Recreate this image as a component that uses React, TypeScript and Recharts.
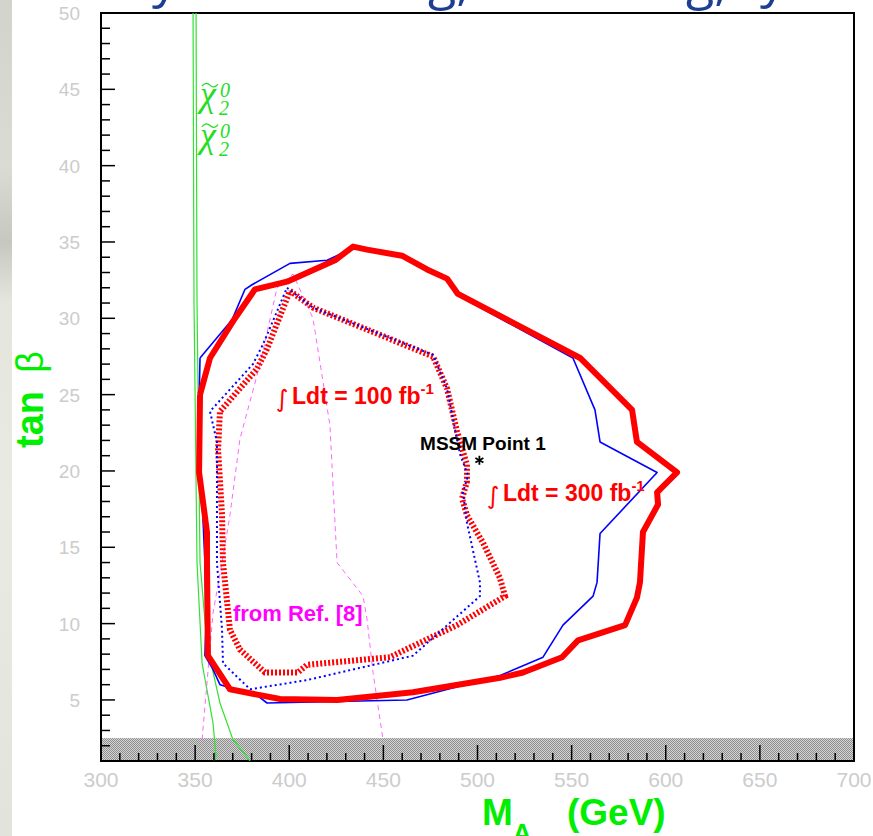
import React from 'react';
import { ComposedChart, Scatter, XAxis, YAxis, ReferenceArea, ReferenceDot } from 'recharts';

// 5 sigma discovery contours, M_A (GeV) vs tan(beta)
const red300 = [
  { x: 352.6, y: 25.0 }, { x: 357.9, y: 27.4 }, { x: 370.1, y: 29.8 }, { x: 381.8, y: 31.9 },
  { x: 398.8, y: 32.4 }, { x: 424.3, y: 33.8 }, { x: 433.9, y: 34.7 }, { x: 441.3, y: 34.5 },
  { x: 459.9, y: 34.1 }, { x: 473.2, y: 33.2 }, { x: 483.8, y: 32.6 }, { x: 489.6, y: 31.6 },
  { x: 554.5, y: 27.4 }, { x: 582.1, y: 24.0 }, { x: 584.7, y: 21.9 }, { x: 606.0, y: 19.9 },
  { x: 595.4, y: 18.6 }, { x: 595.9, y: 17.8 }, { x: 587.9, y: 16.0 }, { x: 586.3, y: 12.7 },
  { x: 584.7, y: 11.7 }, { x: 578.4, y: 9.9 }, { x: 553.4, y: 8.9 }, { x: 544.9, y: 7.8 },
  { x: 524.2, y: 6.8 }, { x: 512.0, y: 6.45 }, { x: 465.7, y: 5.5 }, { x: 425.4, y: 5.0 },
  { x: 395.1, y: 5.06 }, { x: 368.5, y: 5.7 }, { x: 361.6, y: 7.0 }, { x: 356.8, y: 7.9 },
  { x: 356.3, y: 14.0 }, { x: 356.3, y: 16.0 }, { x: 352.1, y: 19.9 }, { x: 352.6, y: 25.0 },
];

const blue300 = [
  { x: 352.6, y: 27.4 }, { x: 369.6, y: 29.9 }, { x: 376.5, y: 31.9 }, { x: 380.2, y: 32.2 },
  { x: 400.4, y: 33.6 }, { x: 420.1, y: 33.8 }, { x: 433.9, y: 34.6 }, { x: 441.3, y: 34.5 },
  { x: 459.9, y: 34.0 }, { x: 473.2, y: 33.2 }, { x: 482.7, y: 32.6 }, { x: 489.6, y: 31.5 },
  { x: 550.7, y: 27.4 }, { x: 562.4, y: 24.0 }, { x: 565.1, y: 21.9 }, { x: 595.4, y: 19.9 },
  { x: 565.1, y: 15.9 }, { x: 563.5, y: 12.7 }, { x: 561.4, y: 11.8 }, { x: 545.4, y: 9.9 },
  { x: 534.8, y: 7.8 }, { x: 512.0, y: 6.6 }, { x: 462.5, y: 5.0 }, { x: 388.2, y: 4.8 },
  { x: 382.9, y: 5.3 }, { x: 363.2, y: 6.0 }, { x: 359.5, y: 7.0 }, { x: 355.2, y: 7.9 },
  { x: 355.8, y: 10.1 }, { x: 355.2, y: 14.0 }, { x: 353.1, y: 19.9 }, { x: 352.1, y: 24.5 },
  { x: 352.6, y: 27.4 },
];

const red100 = [
  { x: 400.4, y: 31.8 }, { x: 412.6, y: 30.7 }, { x: 476.4, y: 27.5 }, { x: 483.8, y: 25.4 },
  { x: 489.1, y: 22.6 }, { x: 494.4, y: 20.4 }, { x: 494.4, y: 19.3 }, { x: 491.8, y: 18.2 },
  { x: 494.4, y: 17.1 }, { x: 502.9, y: 15.3 }, { x: 511.9, y: 13.0 }, { x: 514.6, y: 11.8 },
  { x: 489.1, y: 9.9 }, { x: 469.5, y: 8.75 }, { x: 453.5, y: 7.8 }, { x: 409.4, y: 7.3 },
  { x: 404.6, y: 6.8 }, { x: 387.1, y: 6.8 }, { x: 373.8, y: 8.3 }, { x: 368.5, y: 9.6 },
  { x: 364.8, y: 14.0 }, { x: 364.3, y: 17.1 }, { x: 362.2, y: 21.4 }, { x: 363.2, y: 23.9 },
  { x: 373.8, y: 25.4 }, { x: 382.9, y: 26.7 }, { x: 388.2, y: 28.0 }, { x: 400.4, y: 31.8 },
];

const blue100 = [
  { x: 398.8, y: 32.0 }, { x: 412.6, y: 30.7 }, { x: 476.4, y: 27.6 }, { x: 483.8, y: 25.4 },
  { x: 490.7, y: 21.1 }, { x: 495.0, y: 19.7 }, { x: 492.3, y: 18.6 }, { x: 494.4, y: 16.6 },
  { x: 501.3, y: 12.7 }, { x: 501.3, y: 11.8 }, { x: 465.7, y: 7.9 }, { x: 409.4, y: 6.3 },
  { x: 379.2, y: 5.7 }, { x: 364.8, y: 7.4 }, { x: 364.3, y: 9.6 }, { x: 361.6, y: 14.0 },
  { x: 361.6, y: 21.9 }, { x: 357.9, y: 23.9 }, { x: 380.7, y: 27.0 }, { x: 386.1, y: 28.3 },
  { x: 398.8, y: 32.0 },
];

// older contour, from Ref. [8]
const refEight = [
  { x: 353.7, y: 2.4 }, { x: 359.5, y: 10.7 }, { x: 364.3, y: 14.0 }, { x: 368.5, y: 17.1 },
  { x: 373.8, y: 22.1 }, { x: 384.5, y: 27.0 }, { x: 393.5, y: 32.0 }, { x: 402.0, y: 32.9 },
  { x: 412.6, y: 30.0 }, { x: 421.6, y: 23.0 }, { x: 425.4, y: 14.0 }, { x: 439.2, y: 11.8 },
  { x: 441.3, y: 10.3 }, { x: 444.5, y: 6.8 }, { x: 449.8, y: 2.4 },
];

// chi_2^0 decay thresholds
const chiInner = [
  { x: 348.9, y: 50 }, { x: 349.4, y: 31.1 }, { x: 351.0, y: 14.0 }, { x: 353.7, y: 7.4 },
  { x: 359.5, y: 3.5 }, { x: 361.1, y: 1.3 }, { x: 360.0, y: 1.0 },
];
const chiOuter = [
  { x: 350.5, y: 50 }, { x: 351.0, y: 31.1 }, { x: 352.6, y: 14.0 }, { x: 356.3, y: 8.6 },
  { x: 363.2, y: 4.8 }, { x: 370.1, y: 2.4 }, { x: 379.2, y: 1.0 },
];

const mssmPoint1 = [{ x: 501, y: 20.7 }];

const excludedTanBeta = [1, 2.5];
const massRange = [300, 700];
const tanBetaRange = [1, 50];
const massTicks = Array.from({ length: 41 }, (_, i) => 300 + i * 10);
const tanBetaTicks = Array.from({ length: 50 }, (_, i) => 1 + i);

const SANS = "'Liberation Sans', Arial, sans-serif";
const GREEN = '#00ee00';

const noDot = () => <g />;

// ticks point into the frame; tickSize/tickMargin are 0 so x/y sit on the plot edge
const MassTick = ({ x, y, payload }: any) => {
  const v = payload.value;
  const major = v % 50 === 0;
  return (
    <g>
      <line x1={x} x2={x} y1={y} y2={y - (major ? 16 : 8)} stroke="#000" strokeWidth={1.5} />
      {major && (
        <text x={x} y={y + 26} textAnchor="middle" fontFamily={SANS} fontSize={21} fill="#cccccc">
          {v}
        </text>
      )}
    </g>
  );
};

const TanBetaTick = ({ x, y, payload }: any) => {
  const v = payload.value;
  const major = v % 5 === 0;
  return (
    <g>
      <line x1={x} x2={x + (major ? 14 : 9)} y1={y} y2={y} stroke="#000" strokeWidth={1.5} />
      {major && (
        <text x={x - 21} y={y + 7} textAnchor="end" fontFamily={SANS} fontSize={19} fill="#cccccc">
          {v}
        </text>
      )}
    </g>
  );
};

const DitherBand = ({ x, y, width, height }: any) => (
  <g>
    <defs>
      <pattern id="dither" width={2} height={2} patternUnits="userSpaceOnUse">
        <rect width={2} height={2} fill="#d6d6d6" />
        <rect width={1} height={1} fill="#8c8c8c" />
        <rect x={1} y={1} width={1} height={1} fill="#8c8c8c" />
      </pattern>
    </defs>
    <rect x={x} y={y} width={width} height={height} fill="url(#dither)" />
  </g>
);

const Asterisk = ({ cx, cy }: any) => (
  <g stroke="#000" strokeWidth={1.8}>
    <line x1={cx} y1={cy - 4.5} x2={cx} y2={cy + 4.5} />
    <line x1={cx - 4} y1={cy - 2.3} x2={cx + 4} y2={cy + 2.3} />
    <line x1={cx - 4} y1={cy + 2.3} x2={cx + 4} y2={cy - 2.3} />
  </g>
);

const ChiLabel = ({ cx, cy }: any) => (
  <g fill="#22dd22" fontFamily="'Liberation Serif', 'DejaVu Serif', serif" fontStyle="italic">
    <text x={cx} y={cy} fontSize={36}>χ</text>
    <path
      d={`M${cx + 2},${cy - 20} q4,-5 8,-1 q4,4 8,-1`}
      fill="none" stroke="#22dd22" strokeWidth={1.3}
    />
    <text x={cx + 20} y={cy - 9} fontSize={20}>0</text>
    <text x={cx + 19} y={cy + 9} fontSize={20}>2</text>
  </g>
);

const lumiLabel = (lumi: string) => ({ cx, cy }: any) => (
  <g fill="#ff0000">
    <text x={cx - 16} y={cy + 3} fontFamily="'DejaVu Sans', sans-serif" fontSize={24}>∫</text>
    <text x={cx} y={cy} fontFamily={SANS} fontWeight="bold" fontSize={23}>
      Ldt = {lumi} fb
      <tspan dy={-10} fontSize={15}>-1</tspan>
    </text>
  </g>
);

const textLabel = (label: string, size: number, color: string) => ({ cx, cy }: any) => (
  <text x={cx} y={cy} fontFamily={SANS} fontWeight="bold" fontSize={size} fill={color}>
    {label}
  </text>
);

const App = () => (
  <div
    style={{
      position: 'absolute', left: 0, top: 0, width: 873, height: 836,
      background: '#fff', overflow: 'hidden',
    }}
  >
    <div
      style={{
        position: 'absolute', left: 0, top: 0, width: 12, height: 836,
        background:
          'linear-gradient(180deg, #d2d4cb 0%, #dadcd3 20%, #c6c8bf 29%, #e4e6de 36%, #e9ebe3 60%, #e2e4dc 100%)',
      }}
    />
    <ComposedChart
      width={873}
      height={836}
      margin={{ top: 13, right: 19, bottom: 45, left: 41 }}
      style={{ position: 'absolute', left: 0, top: 0 }}
    >
      <XAxis
        type="number"
        dataKey="x"
        domain={massRange}
        ticks={massTicks}
        interval={0}
        height={30}
        tickSize={0}
        tickMargin={0}
        axisLine={false}
        tickLine={false}
        tick={(p: any) => <MassTick {...p} />}
        allowDataOverflow
      />
      <YAxis
        type="number"
        dataKey="y"
        domain={tanBetaRange}
        ticks={tanBetaTicks}
        interval={0}
        width={60}
        tickSize={0}
        tickMargin={0}
        axisLine={false}
        tickLine={false}
        tick={(p: any) => <TanBetaTick {...p} />}
        allowDataOverflow
      />
      <ReferenceArea
        x1={massRange[0]} x2={massRange[1]}
        y1={excludedTanBeta[0]} y2={excludedTanBeta[1]}
        shape={<DitherBand />}
      />

      <Scatter data={chiInner} shape={noDot} isAnimationActive={false}
        line={{ stroke: '#33e033', strokeWidth: 1.2 }} />
      <Scatter data={chiOuter} shape={noDot} isAnimationActive={false}
        line={{ stroke: '#33e033', strokeWidth: 1.2 }} />
      <Scatter data={refEight} shape={noDot} isAnimationActive={false}
        line={{ stroke: '#ff66ff', strokeWidth: 1, strokeDasharray: '5 4' }} />
      <Scatter data={blue300} shape={noDot} isAnimationActive={false}
        line={{ stroke: '#0000ff', strokeWidth: 1.6, strokeLinejoin: 'round' }} />
      <Scatter data={red100} shape={noDot} isAnimationActive={false}
        line={{ stroke: '#ff0000', strokeWidth: 6, strokeDasharray: '2 2' }} />
      <Scatter data={blue100} shape={noDot} isAnimationActive={false}
        line={{ stroke: '#0000ff', strokeWidth: 2, strokeDasharray: '2 3' }} />
      <Scatter data={red300} shape={noDot} isAnimationActive={false}
        line={{ stroke: '#ff0000', strokeWidth: 6, strokeLinejoin: 'round' }} />
      <Scatter data={mssmPoint1} shape={<Asterisk />} isAnimationActive={false} />

      <ReferenceDot x={352.6} y={43.9} r={0} shape={<ChiLabel />} />
      <ReferenceDot x={352.6} y={41.25} r={0} shape={<ChiLabel />} />
      <ReferenceDot x={401.5} y={24.4} r={0} shape={lumiLabel('100')} />
      <ReferenceDot x={513.5} y={18.0} r={0} shape={lumiLabel('300')} />
      <ReferenceDot x={469.5} y={21.4} r={0} shape={textLabel('MSSM Point 1', 19, '#000')} />
      <ReferenceDot x={370.1} y={10.2} r={0} shape={textLabel('from Ref. [8]', 22, '#ff00ff')} />

      <ReferenceArea
        x1={massRange[0]} x2={massRange[1]}
        y1={tanBetaRange[0]} y2={tanBetaRange[1]}
        fill="none" fillOpacity={0} stroke="#000" strokeWidth={2}
      />
    </ComposedChart>

    <svg
      width={873}
      height={836}
      style={{ position: 'absolute', left: 0, top: 0, pointerEvents: 'none' }}
    >
      {/* descenders of the slide title running off the top edge */}
      <g fill="#1c3f94" fontFamily="'Open Sans', sans-serif" fontSize={52}>
        <text x={152} y={-3}>y</text>
        <text x={428} y={-1}>g,</text>
        <text x={686} y={-1}>g,</text>
        <text x={760} y={-3}>y</text>
      </g>
      <text x={482} y={825} fontFamily={SANS} fontWeight="bold" fontSize={37} fill={GREEN}>
        M<tspan fontSize={26} dy={17}>A</tspan>
        <tspan x={567} y={825}>(GeV)</tspan>
      </text>
      <text transform="translate(43,448) rotate(-90)" fontFamily={SANS} fontSize={38} fill={GREEN}>
        <tspan fontWeight="bold">tan</tspan>
        <tspan dx={18}>β</tspan>
      </text>
    </svg>
  </div>
);

export default App;
